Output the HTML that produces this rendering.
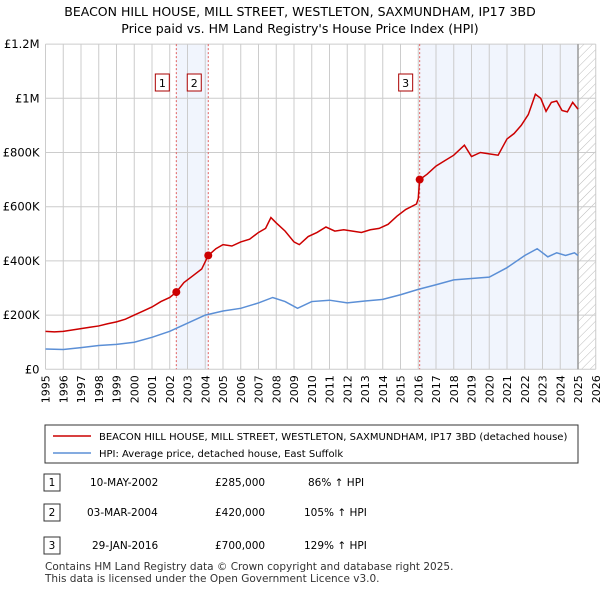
<!DOCTYPE html><html><head><meta charset="utf-8"><style>
body{margin:0;background:#fff;font-family:"Liberation Sans","DejaVu Sans",sans-serif;}
text{font-family:"DejaVu Sans","Liberation Sans",sans-serif;}
</style></head><body>
<svg id="c" width="600" height="590" xmlns="http://www.w3.org/2000/svg">
<defs><pattern id="h" width="6" height="6" patternUnits="userSpaceOnUse" patternTransform="rotate(45)"><line x1="0" y1="0" x2="0" y2="6" stroke="#bbb" stroke-width="1"/></pattern></defs>
<text x="300" y="16" text-anchor="middle" font-size="12.5">BEACON HILL HOUSE, MILL STREET, WESTLETON, SAXMUNDHAM, IP17 3BD</text>
<text x="300" y="33" text-anchor="middle" font-size="12.5">Price paid vs. HM Land Registry's House Price Index (HPI)</text>
<g id="plot"></g>
<rect x="45" y="425" width="533" height="38" fill="#fff" stroke="#333"/>
<line x1="53" y1="436" x2="91" y2="436" stroke="#cc0000" stroke-width="1.5"/>
<text x="99" y="440" font-size="10">BEACON HILL HOUSE, MILL STREET, WESTLETON, SAXMUNDHAM, IP17 3BD (detached house)</text>
<line x1="53" y1="453" x2="91" y2="453" stroke="#5b8fd6" stroke-width="1.5"/>
<text x="99" y="457" font-size="10">HPI: Average price, detached house, East Suffolk</text>
<g font-size="10.5">
<rect x="44" y="474" width="16" height="17" fill="#fff" stroke="#333"/><text x="52" y="486" text-anchor="middle">1</text>
<text x="90" y="486">10-MAY-2002</text><text x="215" y="486">£285,000</text><text x="308" y="486">86% ↑ HPI</text>
<rect x="44" y="504" width="16" height="17" fill="#fff" stroke="#333"/><text x="52" y="516" text-anchor="middle">2</text>
<text x="87" y="516">03-MAR-2004</text><text x="215" y="516">£420,000</text><text x="304" y="516">105% ↑ HPI</text>
<rect x="44" y="537" width="16" height="17" fill="#fff" stroke="#333"/><text x="52" y="549" text-anchor="middle">3</text>
<text x="92" y="549">29-JAN-2016</text><text x="215" y="549">£700,000</text><text x="304" y="549">129% ↑ HPI</text>
</g>
<text x="45" y="570" font-size="10.5" fill="#333">Contains HM Land Registry data © Crown copyright and database right 2025.</text>
<text x="45" y="582" font-size="10.5" fill="#333">This data is licensed under the Open Government Licence v3.0.</text>
</svg>
<script>
const yTicks=[0,200000,400000,600000,800000,1000000,1200000];
const yTickLabels=["£0","£200K","£400K","£600K","£800K","£1M","£1.2M"];
const xYears=[1995,1996,1997,1998,1999,2000,2001,2002,2003,2004,2005,2006,2007,2008,2009,2010,2011,2012,2013,2014,2015,2016,2017,2018,2019,2020,2021,2022,2023,2024,2025,2026];
const redT=[1995,1995.5,1996,1996.5,1997,1997.5,1998,1998.5,1999,1999.5,2000,2000.5,2001,2001.5,2002,2002.37,2002.8,2003.3,2003.8,2004.17,2004.6,2005,2005.5,2006,2006.5,2007,2007.4,2007.7,2008,2008.5,2009,2009.3,2009.8,2010.3,2010.8,2011.3,2011.8,2012.3,2012.8,2013.3,2013.8,2014.3,2014.8,2015.3,2015.9,2016.0,2016.08,2016.5,2017,2017.5,2018,2018.6,2019,2019.5,2020,2020.5,2021,2021.4,2021.8,2022.2,2022.6,2022.9,2023.2,2023.5,2023.8,2024.1,2024.4,2024.7,2025];
const redV=[140000,138000,140000,145000,150000,155000,160000,168000,175000,185000,200000,215000,230000,250000,265000,285000,320000,345000,370000,420000,445000,460000,455000,470000,480000,505000,520000,560000,540000,510000,470000,460000,490000,505000,525000,510000,515000,510000,505000,515000,520000,535000,565000,590000,610000,630000,700000,720000,750000,770000,790000,827000,785000,800000,795000,790000,850000,870000,900000,940000,1015000,1000000,952000,985000,990000,955000,950000,985000,960000];
const blueT=[1995,1996,1997,1998,1999,2000,2001,2002,2003,2004,2005,2006,2007,2007.8,2008.5,2009.2,2010,2011,2012,2013,2014,2015,2016,2017,2018,2019,2020,2021,2022,2022.7,2023.3,2023.8,2024.3,2024.8,2025];
const blueV=[75000,73000,80000,88000,92000,100000,118000,140000,170000,200000,215000,225000,245000,265000,250000,225000,250000,255000,245000,252000,258000,275000,295000,312000,330000,335000,340000,375000,420000,445000,415000,430000,420000,430000,420000];
const saleT=[2002.37,2004.17,2016.08];
const saleV=[285000,420000,700000];
const saleLabels=["1","2","3"];
const X0=45.5,PX=17.75,Y0=369.3,PY=54.2/200000;
const x=t=>X0+(t-1995)*PX, y=v=>Y0-v*PY;
const NS="http://www.w3.org/2000/svg";
const g=document.getElementById('plot');
function mk(tag,at){const e=document.createElementNS(NS,tag);for(const k in at)e.setAttribute(k,at[k]);g.appendChild(e);return e;}
const plotTop=y(1200000);
let e=mk('rect',{x:x(saleT[0]),y:plotTop,width:x(saleT[1])-x(saleT[0]),height:Y0-plotTop,fill:'#eef3fc',opacity:0.8});


e=mk('rect',{x:x(saleT[2]),y:plotTop,width:x(2025)-x(saleT[2]),height:Y0-plotTop,fill:'#eef3fc',opacity:0.8});


e=mk('rect',{x:x(2025),y:plotTop,width:x(2026)-x(2025),height:Y0-plotTop,fill:'url(#h)'});


xYears.forEach((yr,i)=>{
 e=mk('line',{x1:x(yr),x2:x(yr),y1:plotTop,y2:Y0,stroke:'#ccc','stroke-width':1});
 
 
 e=mk('text',{x:0,y:0,'font-size':11,'text-anchor':'end',transform:`translate(${x(yr)+4},${Y0+6}) rotate(-90)`});
 e.textContent=yr;
 
 
});
yTicks.forEach((v,i)=>{
 e=mk('line',{x1:X0,x2:x(2026),y1:y(v),y2:y(v),stroke:'#ccc','stroke-width':1});
 
 
 e=mk('text',{x:X0-6,y:y(v)+4,'font-size':11.5,'text-anchor':'end'});
 e.textContent=yTickLabels[i];
 
 
});
e=mk('line',{x1:x(2025),x2:x(2025),y1:plotTop,y2:Y0,stroke:'#999','stroke-width':1.5});


saleT.forEach((t,i)=>{
 e=mk('line',{x1:x(t),x2:x(t),y1:plotTop,y2:Y0,stroke:'#e06060','stroke-dasharray':'2,2','stroke-width':1});
 
 
 e=mk('rect',{x:x(t)-21,y:74,width:14,height:17,fill:'#fff',stroke:'#a00'});
 
 
 e=mk('text',{x:x(t)-14,y:87,'font-size':11,'text-anchor':'middle'});
 e.textContent=saleLabels[i];
 
 
});
e=mk('polyline',{points:blueT.map((t,i)=>x(t)+','+y(blueV[i])).join(' '),fill:'none',stroke:'#5b8fd6','stroke-width':1.5});


e=mk('polyline',{points:redT.map((t,i)=>x(t)+','+y(redV[i])).join(' '),fill:'none',stroke:'#cc0000','stroke-width':1.5});


saleT.forEach((t,i)=>{
 e=mk('circle',{cx:x(t),cy:y(saleV[i]),r:4,fill:'#cc0000'});
 
 
});
</script>
</body></html>
